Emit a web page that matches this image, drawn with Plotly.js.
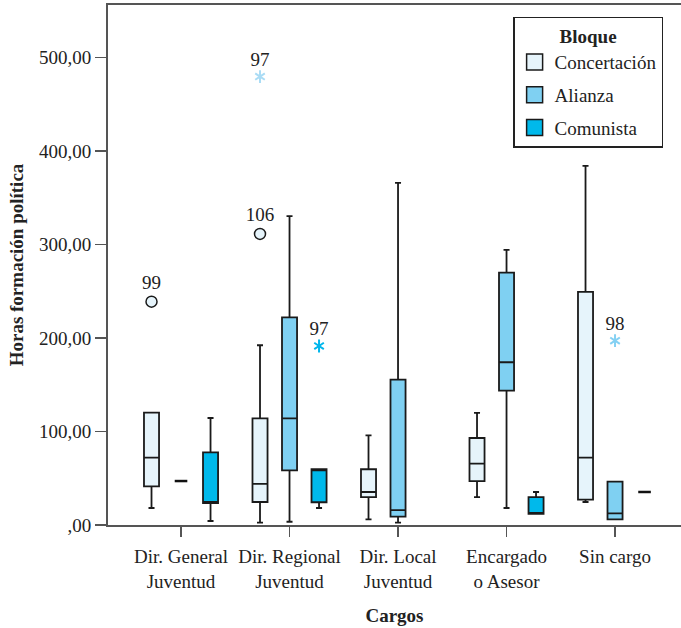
<!DOCTYPE html>
<html><head><meta charset="utf-8">
<script src="https://cdn.plot.ly/plotly-3.0.1.min.js"></script>
<style>body{margin:0;background:#fff}#chart{width:681px;height:628px}</style>
</head><body><div id="chart"></div>
<script>
// ---- data ----
const cargos = ['Dir. General<br>Juventud','Dir. Regional<br>Juventud','Dir. Local<br>Juventud','Encargado<br>o Asesor','Sin cargo'];
const bloques = ['Concertación','Alianza','Comunista'];
const yTickVals = [0,100,200,300,400,500];
const yTickText = [',00','100,00','200,00','300,00','400,00','500,00'];

const concQ1  = [41.4, 24.6, 29.9, 47.0, 27.1];
const concMed = [72.0, 43.9, 35.3, 65.6, 72.0];
const concQ3  = [120.1, 114.1, 59.6, 93.0, 249.2];
const concLo  = [18.2, 2.5, 6.1, 29.9, 24.6];
const concHi  = [120.1, 192.2, 95.9, 119.8, 383.9];

const aliQ1  = [null, 58.5, 8.9, 143.6, 6.1];
const aliMed = [null, 114.1, 16.0, 174.0, 12.5];
const aliQ3  = [null, 222.1, 155.4, 269.9, 46.3];
const aliLo  = [null, 3.5, 2.5, 18.2, 6.1];
const aliHi  = [null, 330.2, 365.8, 294.1, 46.3];

const comQ1  = [23.5, 24.3, null, 11.8, null];
const comMed = [23.5, 59.6, null, 11.8, null];
const comQ3  = [77.7, 59.6, null, 29.9, null];
const comLo  = [4.3, 18.2, null, 11.8, null];
const comHi  = [114.4, 59.6, null, 35.3, null];

// single-value groups (drawn as a dash)
const singleVal    = [47.0, 35.3];
const singleCargo  = [0, 4];
const singleBloque = [1, 2];

// outliers
const outCase   = ['99', '106', '97', '97', '98'];
const outCargo  = [0, 1, 1, 1, 4];
const outBloque = [0, 0, 0, 2, 1];
const outVal    = [238.8, 311.2, 479.5, 191.4, 197.1];
const outType   = ['circle', 'circle', 'star', 'star', 'star'];

// ---- styles ----
const fills = ['#e6f4fb', '#7fd0f2', '#00b9eb'];
const starColors = ['#aadcf5', '#85d1f3', '#00b6ec'];
const FONT = 'Liberation Serif, Times New Roman, serif';
const FS = 19;
const BOXGAP = 0.184, GROUPGAP = 0.49;
const slot = (1 - BOXGAP) / 3;
const XR = [-0.673, 4.608];

const stats = [
  [concQ1, concMed, concQ3, concLo, concHi],
  [aliQ1, aliMed, aliQ3, aliLo, aliHi],
  [comQ1, comMed, comQ3, comLo, comHi]
];

const traces = [];
stats.forEach((s, b) => {
  const idx = cargos.map((c, i) => i).filter(i => s[0][i] !== null);
  traces.push({
    type: 'box', name: bloques[b], showlegend: false,
    x: idx.map(i => cargos[i]),
    q1: idx.map(i => s[0][i]), median: idx.map(i => s[1][i]), q3: idx.map(i => s[2][i]),
    lowerfence: idx.map(i => s[3][i]), upperfence: idx.map(i => s[4][i]),
    boxpoints: false, fillcolor: fills[b],
    line: {color: '#1a1a1a', width: 1.8}, whiskerwidth: 0.4,
    hoverinfo: 'skip'
  });
});

// dashes for single values
traces.push({
  type: 'scatter', mode: 'markers', xaxis: 'x2', showlegend: false,
  x: singleVal.map((v, k) => singleCargo[k] + (singleBloque[k] - 1) * slot),
  y: singleVal,
  marker: {symbol: 'line-ew-open', size: 9, color: '#111', line: {color: '#111', width: 2.5}},
  hoverinfo: 'skip'
});

// outliers: circles
const ci = outVal.map((v, k) => k).filter(k => outType[k] === 'circle');
traces.push({
  type: 'scatter', mode: 'markers+text', xaxis: 'x2', showlegend: false,
  x: ci.map(k => outCargo[k] + (outBloque[k] - 1) * slot),
  y: ci.map(k => outVal[k]),
  text: ci.map(k => outCase[k]), textposition: 'top center',
  textfont: {family: FONT, size: FS, color: '#222'},
  marker: {symbol: 'circle', size: 11, color: ci.map(k => fills[outBloque[k]]), line: {color: '#1a1a1a', width: 1.5}},
  hoverinfo: 'skip'
});
// outliers: stars (six-pointed asterisk built from two Y symbols)
const si = outVal.map((v, k) => k).filter(k => outType[k] === 'star');
['y-up-open', 'y-down-open'].forEach((sym, j) => {
  traces.push({
    type: 'scatter', mode: j === 0 ? 'markers+text' : 'markers', xaxis: 'x2', showlegend: false,
    x: si.map(k => outCargo[k] + (outBloque[k] - 1) * slot),
    y: si.map(k => outVal[k]),
    text: j === 0 ? si.map(k => outCase[k]) : undefined, textposition: 'top center',
    textfont: {family: FONT, size: FS, color: '#222'},
    marker: {symbol: sym, size: 8, color: si.map(k => starColors[outBloque[k]]),
             line: {color: si.map(k => starColors[outBloque[k]]), width: 2}},
    hoverinfo: 'skip'
  });
});

// legend entries
bloques.forEach((b, k) => {
  traces.push({
    type: 'scatter', mode: 'markers', name: b, x: [null], y: [null], xaxis: 'x2',
    legendgroup: 'g' + k,
    marker: {symbol: 'square', size: 16, color: fills[k], line: {color: '#1a1a1a', width: 1.5}}
  });
});

const layout = {
  width: 681, height: 628,
  margin: {l: 108, r: 0, t: 5, b: 103},
  paper_bgcolor: '#fff', plot_bgcolor: '#fff',
  font: {family: FONT, size: FS, color: '#222'},
  boxmode: 'group', boxgap: BOXGAP, boxgroupgap: GROUPGAP,
  showlegend: true,
  legend: {
    x: 0.707, y: 0.977, xanchor: 'left', yanchor: 'top',
    bordercolor: '#222', borderwidth: 1.5, bgcolor: '#fff',
    title: {text: '<b>Bloque</b>', side: 'top center', font: {family: FONT, size: FS}},
    font: {family: FONT, size: FS, color: '#222'},
    traceorder: 'grouped', tracegroupgap: 5
  },
  xaxis: {
    type: 'category', range: XR, categoryorder: 'array', categoryarray: cargos,
    showline: true, linecolor: '#555', linewidth: 2,
    ticks: 'outside', ticklen: 10, tickwidth: 1.5, tickcolor: '#555',
    ticklabelstandoff: 3,
    showgrid: false, zeroline: false,
    tickfont: {family: FONT, size: FS, color: '#222'},
    title: {text: '<b>Cargos</b>', font: {family: FONT, size: FS}, standoff: 18}
  },
  xaxis2: {
    overlaying: 'x', side: 'top', anchor: 'y', range: XR,
    showline: true, linecolor: '#555', linewidth: 2,
    showticklabels: false, ticks: '', showgrid: false, zeroline: false
  },
  yaxis: {
    range: [0, 556], tickvals: yTickVals, ticktext: yTickText,
    showline: true, linecolor: '#555', linewidth: 2,
    ticks: 'outside', ticklen: 11, tickwidth: 1.5, tickcolor: '#555',
    showgrid: false, zeroline: false,
    tickfont: {family: FONT, size: FS, color: '#222'},
    title: {text: '<b>Horas formación política</b>', font: {family: FONT, size: FS}, standoff: 10}
  }
};

Plotly.newPlot('chart', traces, layout, {staticPlot: true, displayModeBar: false});
</script></body></html>
